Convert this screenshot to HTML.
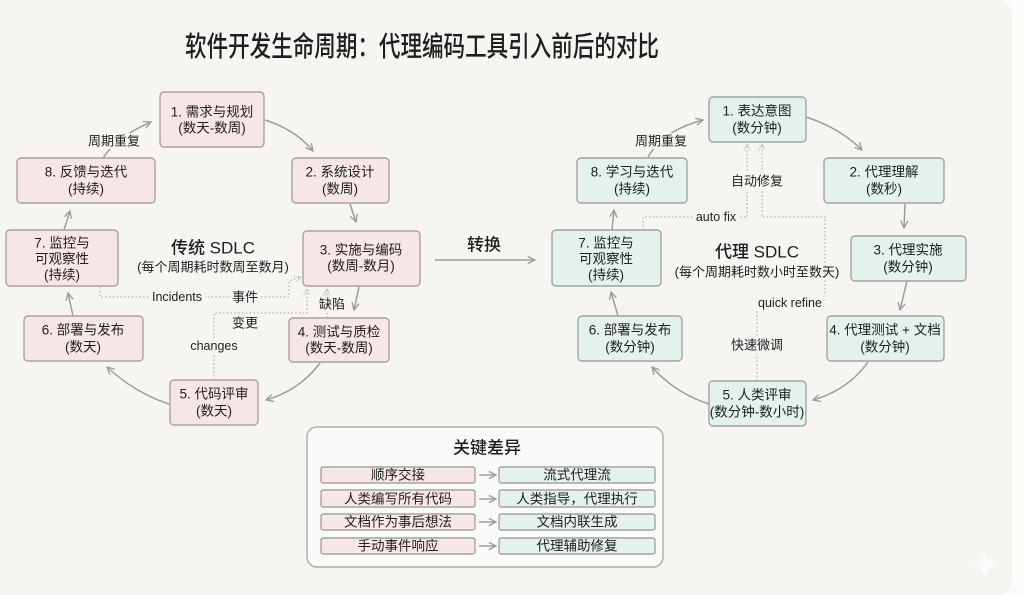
<!DOCTYPE html>
<html><head><meta charset="utf-8"><style>
html,body{margin:0;padding:0;background:#fbfbfa;}
svg{display:block;}
text{font-family:"Liberation Sans","Noto Sans CJK SC",sans-serif;fill:#1e1e1e;}
.n{font-size:13.5px;}
.l{font-size:13px;}
.s{font-size:12.5px;}
.pk{fill:#f6e7e6;stroke:#a8a2a0;stroke-width:1.4;}
.gr{fill:#e5f1ec;stroke:#9ea5a2;stroke-width:1.4;}
.ar{fill:none;stroke:#9c9c9c;stroke-width:1.5;}
.dt{fill:none;stroke:#b0b0b0;stroke-width:1.3;stroke-dasharray:1.4 2.4;}
</style></head><body>
<svg width="1024" height="595" viewBox="0 0 1024 595" xmlns="http://www.w3.org/2000/svg">
<defs>
<marker id="a" viewBox="0 0 10 10" refX="9" refY="5" markerWidth="9" markerHeight="9" markerUnits="userSpaceOnUse" orient="auto"><path d="M1,1 L9,5 L1,9" fill="none" stroke="#9c9c9c" stroke-width="1.5"/></marker>
<marker id="d" viewBox="0 0 10 10" refX="9" refY="5" markerWidth="8" markerHeight="8" markerUnits="userSpaceOnUse" orient="auto"><path d="M1,1 L9,5 L1,9" fill="none" stroke="#b0b0b0" stroke-width="1.4" stroke-dasharray="1.5 1.5"/></marker>
</defs>
<rect x="-20" y="-1" width="1032" height="597" rx="16" fill="#f6f5f1"/>
<path d="M985,552 Q987,563 998,565 Q987,567 985,578 Q983,567 972,565 Q983,563 985,552Z" fill="#fbfbf9"/>

<!-- Title -->
<text transform="translate(422,47) scale(0.77,1)" text-anchor="middle" dominant-baseline="central" style="font-size:28px;font-weight:500">软件开发生命周期：代理编码工具引入前后的对比</text>

<!-- LEFT CYCLE connectors -->
<path class="ar" d="M103,158 Q118,136 151,122" marker-end="url(#a)"/>
<path class="ar" d="M265,120 Q296,130 313,151" marker-end="url(#a)"/>
<path class="ar" d="M350,204 L356,222" marker-end="url(#a)"/>
<path class="ar" d="M359,287 L354,310" marker-end="url(#a)"/>
<path class="ar" d="M320,363 Q300,390 266,400" marker-end="url(#a)"/>
<path class="ar" d="M169,404 Q135,393 107,367" marker-end="url(#a)"/>
<path class="ar" d="M73,316 L68,293" marker-end="url(#a)"/>
<path class="ar" d="M64,230 L70,211" marker-end="url(#a)"/>

<path class="dt" d="M100,287 V297 H289 V281 L301,277" marker-end="url(#d)"/>
<path class="dt" d="M214,380 V313 H307 V289" marker-end="url(#d)"/>
<path class="dt" d="M327,318 V289" marker-end="url(#d)"/>

<!-- left labels -->
<rect x="87" y="133" width="54" height="16" fill="#f6f5f1"/>
<text class="l" x="114" y="141" text-anchor="middle" dominant-baseline="central">周期重复</text>
<rect x="150" y="289" width="55" height="16" fill="#f6f5f1"/>
<text class="s" x="177" y="297" text-anchor="middle" dominant-baseline="central">Incidents</text>
<rect x="231" y="289" width="29" height="16" fill="#f6f5f1"/>
<text class="l" x="245" y="297" text-anchor="middle" dominant-baseline="central">事件</text>
<text class="l" x="245" y="323" text-anchor="middle" dominant-baseline="central">变更</text>
<rect x="190" y="338" width="50" height="16" fill="#f6f5f1"/>
<text class="s" x="214" y="346" text-anchor="middle" dominant-baseline="central">changes</text>
<rect x="316" y="296" width="33" height="16" fill="#f6f5f1"/>
<text class="l" x="332" y="304" text-anchor="middle" dominant-baseline="central">缺陷</text>

<text x="213" y="248" text-anchor="middle" dominant-baseline="central" style="font-size:17px;font-weight:500">传统 SDLC</text>
<text class="l" x="213" y="267" text-anchor="middle" dominant-baseline="central">(每个周期耗时数周至数月)</text>

<!-- LEFT nodes -->
<rect class="pk" x="160" y="92" width="104" height="55" rx="4"/>
<text class="n" x="212" y="112" text-anchor="middle" dominant-baseline="central">1. 需求与规划</text>
<text class="n" x="212" y="128" text-anchor="middle" dominant-baseline="central">(数天-数周)</text>

<rect class="pk" x="292" y="158" width="97" height="45" rx="4"/>
<text class="n" x="340" y="172" text-anchor="middle" dominant-baseline="central">2. 系统设计</text>
<text class="n" x="340" y="189" text-anchor="middle" dominant-baseline="central">(数周)</text>

<rect class="pk" x="303" y="231" width="117" height="55" rx="4"/>
<text class="n" x="361" y="250" text-anchor="middle" dominant-baseline="central">3. 实施与编码</text>
<text class="n" x="361" y="266" text-anchor="middle" dominant-baseline="central">(数周-数月)</text>

<rect class="pk" x="289" y="318" width="100" height="44" rx="4"/>
<text class="n" x="339" y="332" text-anchor="middle" dominant-baseline="central">4. 测试与质检</text>
<text class="n" x="339" y="348" text-anchor="middle" dominant-baseline="central">(数天-数周)</text>

<rect class="pk" x="170" y="380" width="88" height="45" rx="4"/>
<text class="n" x="214" y="394" text-anchor="middle" dominant-baseline="central">5. 代码评审</text>
<text class="n" x="214" y="411" text-anchor="middle" dominant-baseline="central">(数天)</text>

<rect class="pk" x="24" y="316" width="119" height="45" rx="4"/>
<text class="n" x="83" y="330" text-anchor="middle" dominant-baseline="central">6. 部署与发布</text>
<text class="n" x="83" y="347" text-anchor="middle" dominant-baseline="central">(数天)</text>

<rect class="pk" x="6" y="230" width="112" height="56" rx="4"/>
<text class="n" x="62" y="243" text-anchor="middle" dominant-baseline="central">7. 监控与</text>
<text class="n" x="62" y="259" text-anchor="middle" dominant-baseline="central">可观察性</text>
<text class="n" x="62" y="275" text-anchor="middle" dominant-baseline="central">(持续)</text>

<rect class="pk" x="17" y="158" width="138" height="45" rx="4"/>
<text class="n" x="86" y="172" text-anchor="middle" dominant-baseline="central">8. 反馈与迭代</text>
<text class="n" x="86" y="189" text-anchor="middle" dominant-baseline="central">(持续)</text>

<!-- transition -->
<path class="ar" d="M435,260 H535" marker-end="url(#a)"/>
<text x="484" y="245" text-anchor="middle" dominant-baseline="central" style="font-size:17px;font-weight:500">转换</text>

<!-- RIGHT CYCLE connectors -->
<path class="ar" d="M648,157 Q664,130 703,120" marker-end="url(#a)"/>
<path class="ar" d="M806,117 Q840,128 862,150" marker-end="url(#a)"/>
<path class="ar" d="M905,204 L904,228" marker-end="url(#a)"/>
<path class="ar" d="M907,281 L900,310" marker-end="url(#a)"/>
<path class="ar" d="M868,362 Q848,390 813,400" marker-end="url(#a)"/>
<path class="ar" d="M709,404 Q675,393 652,367" marker-end="url(#a)"/>
<path class="ar" d="M618,316 L611,292" marker-end="url(#a)"/>
<path class="ar" d="M612,230 L614,210" marker-end="url(#a)"/>

<path class="dt" d="M643,230 V217 H747 V144" marker-end="url(#d)"/>
<path class="dt" d="M757,381 V303 H825 V217 H762 V144" marker-end="url(#d)"/>

<rect x="634" y="133" width="55" height="16" fill="#f6f5f1"/>
<text class="l" x="661" y="141" text-anchor="middle" dominant-baseline="central">周期重复</text>
<rect x="731" y="173" width="53" height="17" fill="#f6f5f1"/>
<text class="l" x="757" y="181" text-anchor="middle" dominant-baseline="central">自动修复</text>
<rect x="694" y="209" width="45" height="16" fill="#f6f5f1"/>
<text class="s" x="716" y="217" text-anchor="middle" dominant-baseline="central">auto fix</text>
<rect x="756" y="295" width="69" height="16" fill="#f6f5f1"/>
<text class="s" x="790" y="303" text-anchor="middle" dominant-baseline="central">quick refine</text>
<rect x="731" y="337" width="53" height="17" fill="#f6f5f1"/>
<text class="l" x="757" y="345" text-anchor="middle" dominant-baseline="central">快速微调</text>

<text x="757" y="252" text-anchor="middle" dominant-baseline="central" style="font-size:17px;font-weight:500">代理 SDLC</text>
<text class="l" x="757" y="272" text-anchor="middle" dominant-baseline="central">(每个周期耗时数小时至数天)</text>

<!-- RIGHT nodes -->
<rect class="gr" x="709" y="97" width="97" height="45" rx="4"/>
<text class="n" x="757" y="111" text-anchor="middle" dominant-baseline="central">1. 表达意图</text>
<text class="n" x="757" y="128" text-anchor="middle" dominant-baseline="central">(数分钟)</text>

<rect class="gr" x="824" y="158" width="120" height="45" rx="4"/>
<text class="n" x="884" y="172" text-anchor="middle" dominant-baseline="central">2. 代理理解</text>
<text class="n" x="884" y="189" text-anchor="middle" dominant-baseline="central">(数秒)</text>

<rect class="gr" x="851" y="236" width="115" height="45" rx="4"/>
<text class="n" x="908" y="250" text-anchor="middle" dominant-baseline="central">3. 代理实施</text>
<text class="n" x="908" y="267" text-anchor="middle" dominant-baseline="central">(数分钟)</text>

<rect class="gr" x="827" y="316" width="117" height="45" rx="4"/>
<text class="n" x="885" y="330" text-anchor="middle" dominant-baseline="central">4. 代理测试 + 文档</text>
<text class="n" x="885" y="347" text-anchor="middle" dominant-baseline="central">(数分钟)</text>

<rect class="gr" x="709" y="381" width="97" height="45" rx="4"/>
<text class="n" x="757" y="395" text-anchor="middle" dominant-baseline="central">5. 人类评审</text>
<text class="n" x="757" y="412" text-anchor="middle" dominant-baseline="central">(数分钟-数小时)</text>

<rect class="gr" x="578" y="316" width="104" height="45" rx="4"/>
<text class="n" x="630" y="330" text-anchor="middle" dominant-baseline="central">6. 部署与发布</text>
<text class="n" x="630" y="347" text-anchor="middle" dominant-baseline="central">(数分钟)</text>

<rect class="gr" x="552" y="230" width="109" height="56" rx="4"/>
<text class="n" x="606" y="243" text-anchor="middle" dominant-baseline="central">7. 监控与</text>
<text class="n" x="606" y="259" text-anchor="middle" dominant-baseline="central">可观察性</text>
<text class="n" x="606" y="275" text-anchor="middle" dominant-baseline="central">(持续)</text>

<rect class="gr" x="577" y="158" width="110" height="45" rx="4"/>
<text class="n" x="632" y="172" text-anchor="middle" dominant-baseline="central">8. 学习与迭代</text>
<text class="n" x="632" y="189" text-anchor="middle" dominant-baseline="central">(持续)</text>

<!-- Legend -->
<rect x="307" y="427" width="356" height="140" rx="10" fill="#fafaf8" stroke="#ababab" stroke-width="1.4"/>
<text x="487" y="448" text-anchor="middle" dominant-baseline="central" style="font-size:17px;font-weight:500">关键差异</text>

<rect class="pk" x="321" y="467" width="154" height="16" rx="2"/>
<rect class="gr" x="499" y="467" width="156" height="16" rx="2"/>
<path class="ar" d="M479,475 H496" marker-end="url(#a)"/>
<text class="n" x="398" y="475" text-anchor="middle" dominant-baseline="central">顺序交接</text>
<text class="n" x="577" y="475" text-anchor="middle" dominant-baseline="central">流式代理流</text>

<rect class="pk" x="321" y="490" width="154" height="17" rx="2"/>
<rect class="gr" x="499" y="490" width="156" height="17" rx="2"/>
<path class="ar" d="M479,499 H496" marker-end="url(#a)"/>
<text class="n" x="398" y="499" text-anchor="middle" dominant-baseline="central">人类编写所有代码</text>
<text class="n" x="577" y="499" text-anchor="middle" dominant-baseline="central">人类指导，代理执行</text>

<rect class="pk" x="321" y="514" width="154" height="16" rx="2"/>
<rect class="gr" x="499" y="514" width="156" height="16" rx="2"/>
<path class="ar" d="M479,522 H496" marker-end="url(#a)"/>
<text class="n" x="398" y="522" text-anchor="middle" dominant-baseline="central">文档作为事后想法</text>
<text class="n" x="577" y="522" text-anchor="middle" dominant-baseline="central">文档内联生成</text>

<rect class="pk" x="321" y="538" width="154" height="16" rx="2"/>
<rect class="gr" x="499" y="538" width="156" height="16" rx="2"/>
<path class="ar" d="M479,546 H496" marker-end="url(#a)"/>
<text class="n" x="398" y="546" text-anchor="middle" dominant-baseline="central">手动事件响应</text>
<text class="n" x="577" y="546" text-anchor="middle" dominant-baseline="central">代理辅助修复</text>
</svg>
</body></html>
